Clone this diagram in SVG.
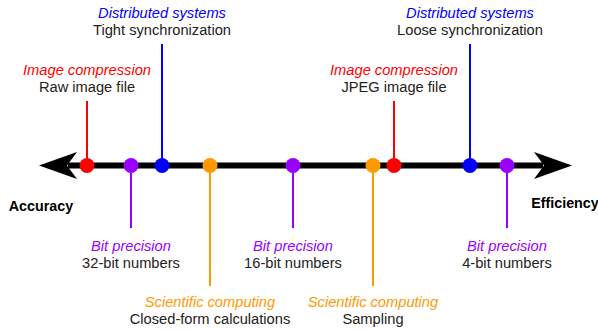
<svg xmlns="http://www.w3.org/2000/svg" width="598" height="331" viewBox="0 0 598 331">
<style>
text{font-family:"Liberation Sans",Arial,sans-serif;font-size:14.67px;text-anchor:middle;fill:#222}
.t{font-style:italic}
.r{fill:#ff0000}.b{fill:#0000ff}.p{fill:#9900ff}.o{fill:#ff9900}
.lr{stroke:#ff0000}.lb{stroke:#0000ff}.lp{stroke:#9900ff}.lo{stroke:#ff9900}
line.s{stroke-width:2}
.end{font-weight:bold;fill:#000;font-size:14.3px}
</style>
<g id="connectors">
<line x1="68" y1="165.5" x2="543" y2="165.5" stroke="#000" stroke-width="6"/>
<path d="M39,165.5 L77,152 L67,165.5 L77,179 Z" fill="#000"/>
<path d="M572,165.5 L534,152 L544,165.5 L534,179 Z" fill="#000"/>
<line class="s lr" x1="87" y1="101" x2="87" y2="165"/>
<line class="s lb" x1="162" y1="44" x2="162" y2="165"/>
<line class="s lp" x1="131" y1="166" x2="131" y2="228"/>
<line class="s lo" x1="210" y1="166" x2="210" y2="286"/>
<line class="s lp" x1="293" y1="166" x2="293" y2="228"/>
<line class="s lo" x1="373" y1="166" x2="373" y2="286"/>
<line class="s lr" x1="394" y1="101" x2="394" y2="165"/>
<line class="s lb" x1="470" y1="44" x2="470" y2="165"/>
<line class="s lp" x1="507" y1="166" x2="507" y2="228"/>
</g>
<g id="labels-ends">
<text class="end" x="41" y="211">Accuracy</text>
<text class="end" x="565" y="208">Efficiency</text>
</g>
<g id="raw-image"><circle class="r" cx="87" cy="165.5" r="7.5"/><text class="t r" x="87" y="74.5">Image compression</text><text x="87" y="91.5">Raw image file</text></g>
<g id="bit32"><circle class="p" cx="131" cy="165.5" r="7.5"/><text class="t p" x="131" y="250.5">Bit precision</text><text x="131" y="267.5">32-bit numbers</text></g>
<g id="tight-sync"><circle class="b" cx="162" cy="165.5" r="7.5"/><text class="t b" x="162" y="17.8">Distributed systems</text><text x="162" y="35.3">Tight synchronization</text></g>
<g id="closed-form"><circle class="o" cx="210" cy="165.5" r="7.5"/><text class="t o" x="210" y="306.5">Scientific computing</text><text x="210" y="323.5">Closed-form calculations</text></g>
<g id="bit16"><circle class="p" cx="293" cy="165.5" r="7.5"/><text class="t p" x="293" y="250.5">Bit precision</text><text x="293" y="267.5">16-bit numbers</text></g>
<g id="sampling"><circle class="o" cx="373" cy="165.5" r="7.5"/><text class="t o" x="373" y="306.5">Scientific computing</text><text x="373" y="323.5">Sampling</text></g>
<g id="jpeg"><circle class="r" cx="394" cy="165.5" r="7.5"/><text class="t r" x="394" y="74.5">Image compression</text><text x="394" y="91.5">JPEG image file</text></g>
<g id="loose-sync"><circle class="b" cx="470" cy="165.5" r="7.5"/><text class="t b" x="470" y="17.8">Distributed systems</text><text x="470" y="35.3">Loose synchronization</text></g>
<g id="bit4"><circle class="p" cx="507" cy="165.5" r="7.5"/><text class="t p" x="507" y="250.5">Bit precision</text><text x="507" y="267.5">4-bit numbers</text></g>
</svg>
